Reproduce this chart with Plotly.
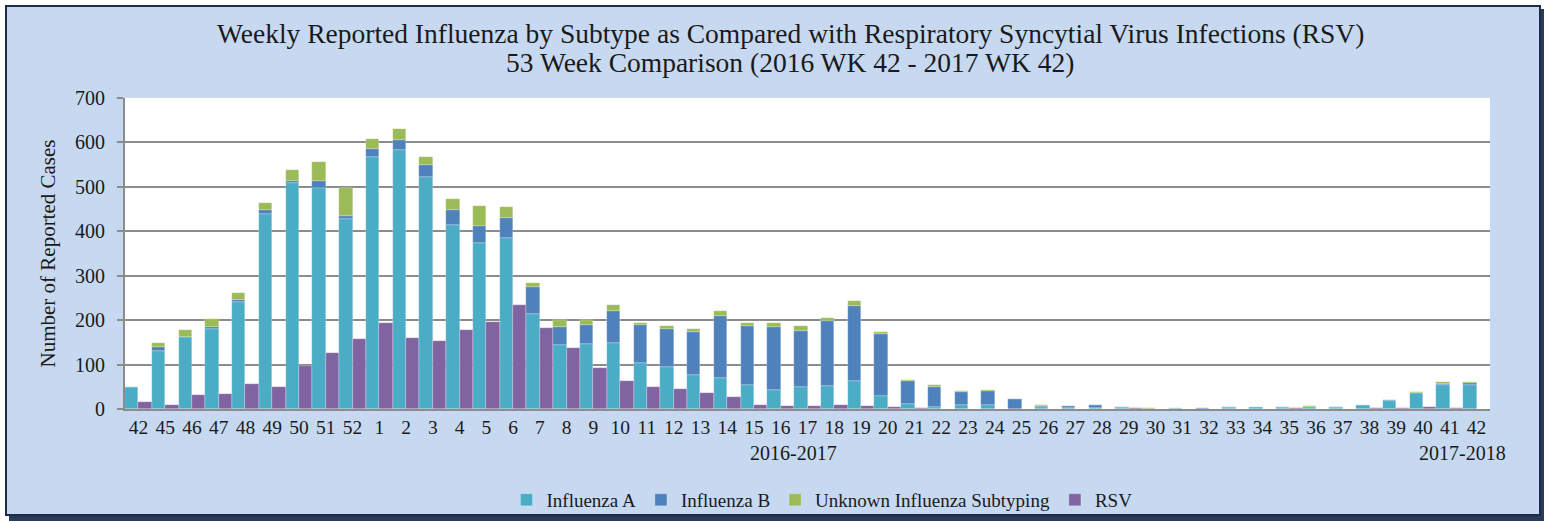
import plotly.graph_objects as go

weeks = ["42", "45", "46", "47", "48", "49", "50", "51", "52"] + [str(w) for w in range(1, 43)]

flu_a = [50, 131, 161, 181, 241, 440, 508, 498, 428,
         568, 584, 523, 415, 373, 386, 213, 143, 146, 148,
         103, 95, 76, 69, 53, 42, 49, 51, 64, 30,
         12, 4, 8, 10, 1, 4, 2, 3, 2, 1,
         2, 1, 2, 4, 2, 5, 2, 9, 18, 36,
         53, 54]
flu_b = [0, 9, 2, 3, 5, 8, 6, 16, 7,
         17, 22, 27, 33, 40, 44, 62, 41, 42, 73,
         87, 85, 98, 141, 134, 143, 127, 148, 168, 139,
         52, 46, 31, 30, 21, 3, 5, 6, 2, 0,
         0, 1, 2, 0, 2, 0, 2, 0, 2, 1,
         3, 5]
flu_unknown = [0, 8, 15, 18, 15, 15, 24, 42, 62,
               22, 25, 17, 24, 45, 24, 9, 17, 12, 14,
               4, 7, 7, 10, 6, 8, 11, 5, 12, 5,
               2, 3, 2, 3, 0, 1, 0, 0, 0, 1,
               0, 0, 0, 0, 0, 2, 0, 0, 0, 1,
               4, 1]
rsv = [15, 10, 31, 34, 56, 50, 97, 125, 158,
       194, 160, 154, 178, 196, 233, 182, 138, 93, 63,
       50, 46, 35, 28, 9, 7, 7, 9, 7, 4,
       2, 1, 1, 1, 1, 1, 1, 1, 2, 1,
       1, 1, 1, 1, 2, 1, 1, 2, 2, 4,
       2, 1]

series_names = ["Influenza A", "Influenza B", "Unknown Influenza Subtyping", "RSV"]
colors = ["#4BACC6", "#4F81BD", "#9BBB59", "#8064A2"]
title_lines = ["Weekly Reported Influenza by Subtype as Compared with Respiratory Syncytial Virus Infections (RSV)",
               "53 Week Comparison (2016 WK 42 - 2017 WK 42)"]
season_labels = ["2016-2017", "2017-2018"]

x = list(range(len(weeks)))
base_b = flu_a
base_u = [a + b for a, b in zip(flu_a, flu_b)]

FONT = "Liberation Serif"
TXT = "#1a1a1a"
edge = dict(color="rgba(255,255,255,0.45)", width=0.5)

fig = go.Figure()
fig.add_trace(go.Bar(x=x, y=flu_a, name=series_names[0], marker=dict(color=colors[0], line=edge),
                     offsetgroup="flu"))
fig.add_trace(go.Bar(x=x, y=flu_b, base=base_b, name=series_names[1], marker=dict(color=colors[1], line=edge),
                     offsetgroup="flu"))
fig.add_trace(go.Bar(x=x, y=flu_unknown, base=base_u, name=series_names[2], marker=dict(color=colors[2], line=edge),
                     offsetgroup="flu"))
fig.add_trace(go.Bar(x=x, y=rsv, name=series_names[3], marker=dict(color=colors[3], line=edge),
                     offsetgroup="rsv"))

W, H = 1544, 521
L, R, T, B = 125, 54, 98, 112
pw, ph = W - L - R, H - T - B

def px_x(p):
    return (p - L) / pw

def px_y(p):
    return (H - B - p) / ph

shapes = [
    # shadow
    dict(type="rect", xref="paper", yref="paper", layer="below",
         x0=px_x(9), x1=px_x(1544), y0=px_y(521), y1=px_y(9),
         fillcolor="#2a3b55", line=dict(width=0)),
    # light blue frame
    dict(type="rect", xref="paper", yref="paper", layer="below",
         x0=px_x(6), x1=px_x(1540), y0=px_y(515), y1=px_y(6),
         fillcolor="#C6D9F1", line=dict(color="#1C2D4A", width=2)),
    # white plot area
    dict(type="rect", xref="paper", yref="paper", layer="below",
         x0=0, x1=1, y0=0, y1=1, fillcolor="white", line=dict(width=0)),
]

annotations = [
    dict(text=title_lines[0], xref="paper", yref="paper", x=px_x(790), y=px_y(33),
         showarrow=False, xanchor="center", yanchor="middle",
         font=dict(family=FONT, size=27.5, color=TXT)),
    dict(text=title_lines[1], xref="paper", yref="paper", x=px_x(790), y=px_y(62),
         showarrow=False, xanchor="center", yanchor="middle",
         font=dict(family=FONT, size=27.5, color=TXT)),
    dict(text=season_labels[0], xref="paper", yref="paper", x=px_x(793), y=px_y(453),
         showarrow=False, xanchor="center", yanchor="middle",
         font=dict(family=FONT, size=20, color=TXT)),
    dict(text=season_labels[1], xref="paper", yref="paper", x=px_x(1462), y=px_y(453),
         showarrow=False, xanchor="center", yanchor="middle",
         font=dict(family=FONT, size=20, color=TXT)),
]

fig.update_layout(
    width=W, height=H,
    margin=dict(l=L, r=R, t=T, b=B, autoexpand=False),
    paper_bgcolor="white",
    plot_bgcolor="white",
    barmode="group",
    bargap=0.0,
    bargroupgap=0.0,
    font=dict(family=FONT, size=19, color=TXT),
    xaxis=dict(
        tickmode="array", tickvals=x, ticktext=weeks,
        range=[-0.5, len(weeks) - 0.5],
        showgrid=False, showline=True, linecolor="#8c8c8c", linewidth=2,
        ticks="", tickfont=dict(family=FONT, size=19.5, color=TXT),
        ticklabelstandoff=0,
        zeroline=False, automargin=False,
    ),
    yaxis=dict(
        range=[0, 700], dtick=100, tick0=0,
        showgrid=True, gridcolor="#8c8c8c", gridwidth=2,
        showline=True, linecolor="#8c8c8c", linewidth=2,
        ticks="outside", ticklen=6, tickcolor="#8c8c8c", tickwidth=2,
        tickfont=dict(family=FONT, size=20, color=TXT),
        ticklabelstandoff=8,
        zeroline=False, automargin=False,
        title=dict(text="Number of Reported Cases", font=dict(family=FONT, size=21, color=TXT),
                   standoff=14),
    ),
    legend=dict(
        orientation="h", xref="container", x=822 / W, xanchor="center",
        yref="container", y=1 - 500 / H, yanchor="middle",
        font=dict(family=FONT, size=19, color=TXT),
        bgcolor="rgba(0,0,0,0)", traceorder="normal",
        itemwidth=30,
    ),
    shapes=shapes,
    annotations=annotations,
)

fig.write_html("out.html", config={"displayModeBar": False})

# remove the browser's default body margin so the figure fills the window exactly
with open("out.html", "r", encoding="utf-8") as f:
    html = f.read()
html = html.replace("<head>", "<head><style>html,body{margin:0;padding:0;overflow:hidden;}</style>", 1)
with open("out.html", "w", encoding="utf-8") as f:
    f.write(html)
